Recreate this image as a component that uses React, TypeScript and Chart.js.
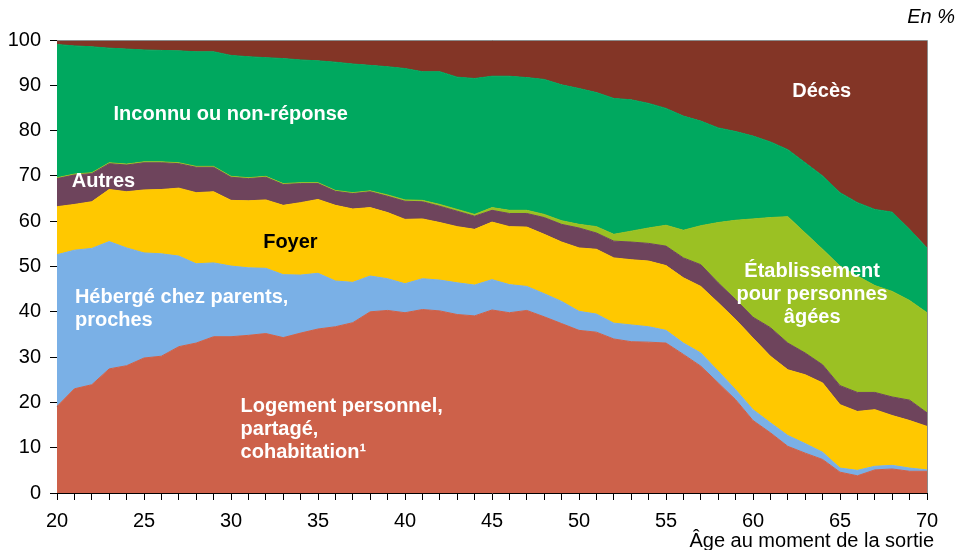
import React, { useEffect, useRef } from "react";
import { Chart, registerables } from "chart.js";

Chart.register(...registerables);

const ages = [20,21,22,23,24,25,26,27,28,29,30,31,32,33,34,35,36,37,38,39,40,41,42,43,44,45,46,47,48,49,50,51,52,53,54,55,56,57,58,59,60,61,62,63,64,65,66,67,68,69,70];

const logement = [19.1,23.0,23.9,27.4,28.1,29.8,30.2,32.3,33.1,34.5, 34.5,34.8,35.2,34.3,35.3,36.2,36.7,37.6,40.0,40.3, 39.8,40.5,40.2,39.4,39.1,40.4,39.8,40.3,38.9,37.4, 35.9,35.5,34.0,33.4,33.3,33.1,30.6,28.0,24.3,20.6, 16.0,13.3,10.3,8.8,7.4,4.6,3.8,5.1,5.3,4.8, 4.8];
const heberge = [33.5,30.6,30.1,28.1,26.0,23.2,22.6,20.0,17.5,16.3, 15.6,14.9,14.4,13.9,12.8,12.3,10.1,8.9,7.9,7.0, 6.4,6.8,6.8,7.0,6.8,6.7,6.2,5.3,5.1,4.9, 4.2,4.0,3.5,3.7,3.4,2.8,2.5,2.9,2.6,2.2, 2.4,2.2,2.4,2.1,1.6,0.9,1.2,0.8,0.8,0.7, 0.3];
const foyer = [10.6,10.1,10.3,11.5,12.4,13.9,14.2,15.0,15.7,15.7, 14.5,14.8,15.1,15.3,16.0,16.3,16.7,16.2,15.1,14.6, 14.2,13.2,12.7,12.4,12.3,12.7,12.8,13.1,13.1,13.1, 14.0,14.3,14.4,14.4,14.5,14.3,14.4,14.7,15.1,15.5, 15.8,14.7,14.5,15.2,15.3,14.0,13.0,12.5,11.0,10.5, 9.6];
const autres = [6.2,6.5,6.2,5.7,5.9,6.0,5.9,5.4,5.6,5.4, 5.1,4.9,5.0,4.6,4.2,3.5,3.1,3.4,3.5,3.6, 4.0,3.8,3.6,3.4,2.9,2.6,2.9,3.0,3.7,3.9, 4.4,3.6,3.7,3.9,3.9,4.3,4.4,4.8,4.4,4.4, 4.6,6.3,5.9,4.8,4.0,4.2,4.2,3.8,4.1,4.5, 3.0];
const etablissement = [0.2,0.2,0.2,0.2,0.2,0.2,0.2,0.2,0.2,0.2, 0.2,0.2,0.2,0.2,0.2,0.2,0.2,0.2,0.2,0.3, 0.3,0.3,0.4,0.4,0.4,0.6,0.7,0.7,0.7,0.8, 0.8,1.4,1.5,2.4,3.4,4.6,6.1,8.6,13.3,17.5, 21.7,24.3,27.9,26.5,25.5,26.4,25.7,23.6,23.3,22.0, 22.1];
const inconnu = [29.4,28.3,27.8,25.3,25.4,24.7,24.6,24.7,25.3,25.3, 26.7,26.7,26.2,27.6,27.1,26.9,28.3,28.4,27.7,28.3, 29.0,28.4,29.3,29.2,30.0,29.0,29.6,29.3,29.8,30.0, 30.0,29.6,30.0,29.0,27.5,25.8,25.2,23.1,20.9,19.6, 18.3,16.7,14.8,15.5,16.2,16.2,16.2,16.8,17.5,15.7, 14.3];
const deces = [1.0,1.3,1.5,1.8,2.0,2.2,2.3,2.4,2.6,2.6, 3.4,3.7,3.9,4.1,4.4,4.6,4.9,5.3,5.6,5.9, 6.3,7.0,7.0,8.2,8.5,8.0,8.0,8.3,8.7,9.9, 10.7,11.6,12.9,13.2,14.0,15.1,16.8,17.9,19.4,20.2, 21.2,22.5,24.2,27.1,30.0,33.7,35.9,37.4,38.0,41.8, 45.9];

const yTicks = [0, 10, 20, 30, 40, 50, 60, 70, 80, 90, 100];

const FONT = "'Liberation Sans', Arial, sans-serif";

// text annotations: [lines, age, value, align, color]
const annotations: [string[], number, number, CanvasTextAlign, string][] = [
  [["Inconnu ou non-réponse"], 23.25, 83.6, "left", "#ffffff"],
  [["Autres"], 20.85, 68.8, "left", "#ffffff"],
  [["Foyer"], 31.85, 55.4, "left", "#000000"],
  [["Hébergé chez parents,", "proches"], 21.03, 43.1, "left", "#ffffff"],
  [["Logement personnel,", "partagé,", "cohabitation¹"], 30.55, 19.2, "left", "#ffffff"],
  [["Décès"], 63.95, 88.7, "center", "#ffffff"],
  [["Établissement", "pour personnes", "âgées"], 63.4, 48.9, "center", "#ffffff"],
];

export default function App() {
  const ref = useRef<HTMLCanvasElement | null>(null);
  useEffect(() => {
    document.body.style.margin = "0";
    const canvas = ref.current!;
    const textPlugin = {
      id: "texts",
      afterDatasetsDraw(chart: any) {
        const { ctx, chartArea, scales } = chart;
        const xs = scales.x;
        const ys = scales.y;
        ctx.save();
        // plot area border (top and right, gray)
        ctx.strokeStyle = "#8c8c8c";
        ctx.lineWidth = 1;
        ctx.beginPath();
        ctx.moveTo(chartArea.left, chartArea.top + 0.5);
        ctx.lineTo(chartArea.right + 0.5, chartArea.top + 0.5);
        ctx.lineTo(chartArea.right + 0.5, chartArea.bottom);
        ctx.stroke();
        ctx.font = `bold 20px ${FONT}`;
        ctx.textBaseline = "middle";
        for (const [lines, age, val, align, color] of annotations) {
          const px = xs.getPixelForValue(age - ages[0]);
          const py = ys.getPixelForValue(val);
          ctx.fillStyle = color;
          ctx.textAlign = align;
          lines.forEach((l, i) => ctx.fillText(l, px, py + i * 23));
        }
        ctx.fillStyle = "#000";
        ctx.font = `20px ${FONT}`;
        ctx.textAlign = "right";
        ctx.fillText("Âge au moment de la sortie", 934, 541);
        ctx.font = `italic 20px ${FONT}`;
        ctx.fillText("En %", 955, 17);
        ctx.restore();
      },
    };
    const mk = (label: string, data: number[], color: string, fill: any) => ({
      label,
      data,
      backgroundColor: color,
      borderColor: color,
      borderWidth: 1,
      pointRadius: 0,
      tension: 0,
      fill,
    });
    const chart = new Chart(canvas, {
      type: "line",
      data: {
        labels: ages.map(String),
        datasets: [
          mk("Logement personnel, partagé, cohabitation", logement, "#CD614A", "origin"),
          mk("Hébergé chez parents, proches", heberge, "#7AB0E6", "-1"),
          mk("Foyer", foyer, "#FFC800", "-1"),
          mk("Autres", autres, "#6E445C", "-1"),
          mk("Établissement pour personnes âgées", etablissement, "#9BC123", "-1"),
          mk("Inconnu ou non-réponse", inconnu, "#00A85F", "-1"),
          mk("Décès", deces, "#833526", "-1"),
        ],
      },
      options: {
        animation: false,
        responsive: false,
        maintainAspectRatio: false,
        layout: { padding: { top: 40, right: 37, left: 0, bottom: 0 } },
        plugins: { legend: { display: false }, tooltip: { enabled: false } },
        elements: { line: { borderJoinStyle: "round" } },
        scales: {
          x: {
            type: "category",
            offset: false,
            grid: { display: true, drawOnChartArea: false, drawTicks: true, tickLength: 7, color: "#000" },
            border: { display: true, color: "#000", width: 1 },
            ticks: {
              autoSkip: false,
              maxRotation: 0,
              padding: 9,
              color: "#000",
              font: { size: 20, family: FONT },
              callback: (_v: any, i: number) => (ages[i] % 5 === 0 ? String(ages[i]) : ""),
            },
            afterFit: (s: any) => { s.height = 57; },
          },
          y: {
            stacked: true,
            min: 0,
            max: 100,
            grid: { display: true, drawOnChartArea: false, drawTicks: true, tickLength: 7, color: "#000" },
            border: { display: true, color: "#000", width: 1 },
            afterBuildTicks: (s: any) => { s.ticks = yTicks.map((v) => ({ value: v })); },
            ticks: { padding: 9, color: "#000", font: { size: 20, family: FONT } },
            afterFit: (s: any) => { s.width = 57; },
          },
        },
      },
      plugins: [textPlugin],
    });
    return () => chart.destroy();
  }, []);
  return (
    <div style={{ width: 964, height: 550 }}>
      <canvas ref={ref} width={964} height={550} style={{ width: 964, height: 550, display: "block" }} />
    </div>
  );
}
